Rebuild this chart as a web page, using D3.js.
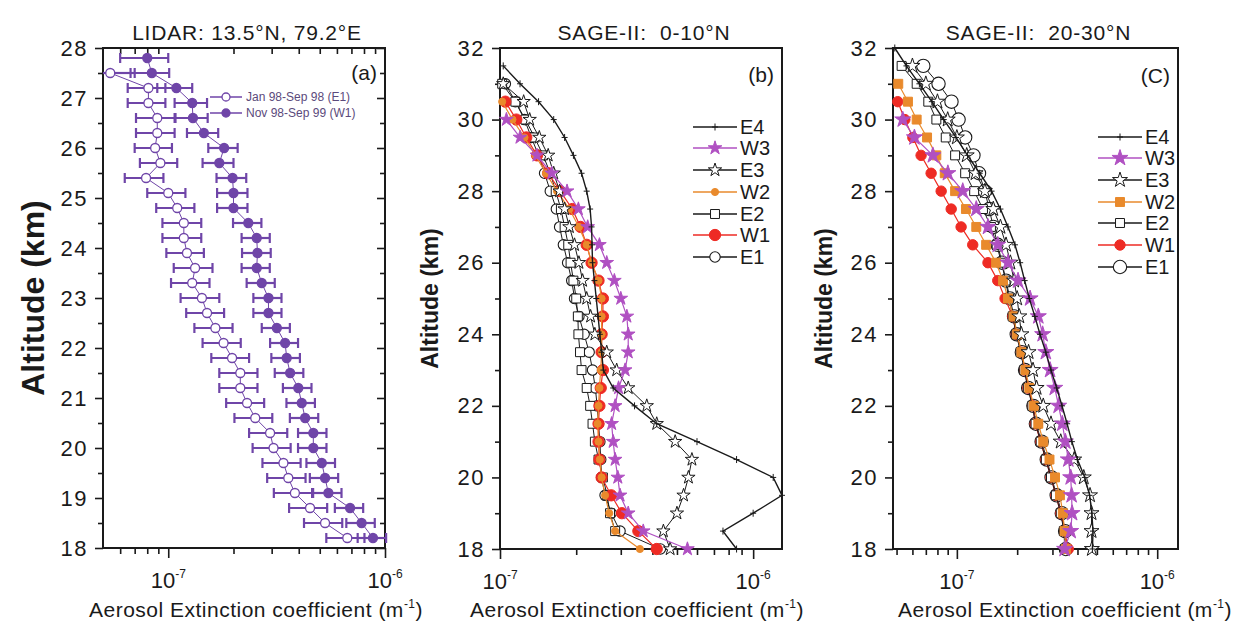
<!DOCTYPE html>
<html>
<head>
<meta charset="UTF-8">
<title>Aerosol extinction profiles</title>
<script src="https://cdn.jsdelivr.net/npm/d3@7"></script>
<style>
  body { margin: 0; background: #fff; }
  svg { font-family: "Liberation Sans", Arial, sans-serif; }
  .ptitle { white-space: pre; }
</style>
</head>
<body>
<svg id="chart" width="1251" height="627"></svg>
<script>
// all extinction values are in units of 1e-7 m^-1

// --- panel (a): LIDAR, 13.5N 79.2E ---
const lidarAltE1 = [27.5,27.2,26.9,26.6,26.3,26.0,25.7,25.4,25.1,24.8,24.5,24.2,23.9,23.6,23.3,23.0,22.7,22.4,22.1,21.8,21.5,21.2,20.9,20.6,20.3,20.0,19.7,19.4,19.1,18.8,18.5,18.2];
const lidarE1 = [0.54,0.81,0.81,0.89,0.89,0.87,0.92,0.79,1.00,1.10,1.18,1.18,1.22,1.33,1.29,1.43,1.51,1.65,1.80,1.97,2.15,2.15,2.31,2.52,2.95,3.06,3.40,3.58,3.84,4.51,5.29,6.70];
const lidarE1err = [0.16,0.16,0.16,0.18,0.18,0.17,0.18,0.16,0.20,0.22,0.24,0.24,0.24,0.27,0.26,0.29,0.30,0.33,0.36,0.39,0.43,0.43,0.46,0.50,0.59,0.61,0.68,0.72,0.77,0.90,1.06,1.34];
const lidarAltW1 = [27.8,27.5,27.2,26.9,26.6,26.3,26.0,25.7,25.4,25.1,24.8,24.5,24.2,23.9,23.6,23.3,23.0,22.7,22.4,22.1,21.8,21.5,21.2,20.9,20.6,20.3,20.0,19.7,19.4,19.1,18.8,18.5,18.2];
const lidarW1 = [0.80,0.84,1.09,1.29,1.30,1.46,1.81,1.72,1.98,2.00,2.00,2.34,2.56,2.58,2.56,2.70,2.90,2.90,3.17,3.46,3.52,3.65,3.98,4.13,4.28,4.67,4.67,5.11,5.29,5.48,6.90,7.80,8.80];
const lidarW1err = [0.20,0.17,0.20,0.22,0.22,0.24,0.28,0.28,0.31,0.32,0.32,0.35,0.38,0.39,0.38,0.40,0.43,0.43,0.47,0.51,0.53,0.55,0.60,0.62,0.64,0.70,0.70,0.77,0.79,0.82,1.03,1.17,1.32];
const lidarLegend = ["Jan 98-Sep 98 (E1)", "Nov 98-Sep 99 (W1)"];

// --- SAGE-II profiles, 32 km down to 18 km every 0.5 km ---
const sageAlt = [32,31.5,31,30.5,30,29.5,29,28.5,28,27.5,27,26.5,26,25.5,25,24.5,24,23.5,23,22.5,22,21.5,21,20.5,20,19.5,19,18.5,18];
const seriesNames = ["E4","W3","E3","W2","E2","W1","E1"];

// panel (b): 0-10N
const bE4 = [null,1.03,1.20,1.42,1.63,1.80,1.95,2.10,2.20,2.27,2.30,2.31,2.32,2.36,2.40,2.44,2.48,2.52,2.56,2.80,3.40,4.16,6.00,8.60,12.0,13.0,10.0,7.60,8.60];
const bW3 = [null,null,null,null,1.06,1.20,1.40,1.60,1.84,2.04,2.22,2.47,2.64,2.83,3.00,3.17,3.21,3.21,3.12,2.94,2.85,2.76,2.80,2.85,2.92,2.98,3.21,3.68,5.50];
const bE3 = [null,null,1.03,1.24,1.31,1.43,1.55,1.63,1.72,1.80,1.88,1.97,2.05,2.12,2.20,2.28,2.37,2.64,2.89,3.21,3.80,4.16,4.92,5.73,5.55,5.31,5.00,4.42,4.70];
const bW2 = [null,null,null,1.02,1.12,1.25,1.38,1.52,1.68,1.88,2.05,2.20,2.30,2.45,2.52,2.52,2.52,2.52,2.50,2.47,2.45,2.43,2.45,2.48,2.52,2.60,2.70,2.85,3.57];
const bE2 = [null,null,1.02,1.15,1.26,1.37,1.48,1.58,1.66,1.74,1.80,1.86,1.90,1.95,2.00,2.03,2.04,2.07,2.10,2.20,2.27,2.32,2.37,2.45,2.55,2.65,2.72,2.85,null];
const bW1 = [null,null,null,1.05,1.16,1.27,1.40,1.55,1.73,1.93,2.08,2.20,2.30,2.45,2.55,2.55,2.52,2.52,2.55,2.50,2.47,2.45,2.45,2.47,2.52,2.75,3.03,3.52,4.16];
const bE1 = [null,null,1.05,1.15,1.25,1.33,1.42,1.50,1.58,1.67,1.72,1.78,1.85,1.92,1.97,2.05,2.15,2.25,2.32,2.38,2.42,2.45,2.48,2.50,2.52,2.60,2.75,2.98,4.30];

// panel (c): 20-30N
const cE4 = [0.49,0.56,0.65,0.75,0.86,0.99,1.13,1.30,1.49,1.65,1.80,1.95,2.07,2.18,2.30,2.45,2.60,2.78,2.95,3.15,3.35,3.55,3.75,4.00,4.35,4.60,4.72,4.78,4.75];
const cW3 = [null,null,null,null,0.537,0.614,0.759,0.902,1.07,1.25,1.43,1.60,1.80,2.02,2.32,2.55,2.68,2.78,2.92,3.08,3.22,3.36,3.48,3.60,3.70,3.74,3.76,3.70,3.45];
const cE3 = [null,0.60,0.70,0.80,0.90,1.00,1.12,1.24,1.38,1.52,1.65,1.76,1.85,1.93,2.00,2.05,2.10,2.28,2.40,2.50,2.70,2.95,3.30,3.85,4.30,4.62,4.70,4.70,4.72];
const cW2 = [null,null,0.51,0.57,0.63,0.71,0.79,0.87,0.98,1.11,1.25,1.40,1.57,1.70,1.80,1.92,2.00,2.10,2.20,2.30,2.42,2.55,2.70,2.90,3.09,3.27,3.38,3.45,3.50];
const cE2 = [null,0.53,0.63,0.72,0.79,0.88,0.98,1.10,1.22,1.35,1.48,1.58,1.67,1.75,1.82,1.90,1.98,2.08,2.17,2.26,2.38,2.47,2.62,2.78,2.95,3.12,3.30,3.42,3.46];
const cW1 = [null,null,null,0.507,0.55,0.603,0.663,0.744,0.835,0.937,1.05,1.20,1.43,1.60,1.74,1.90,1.98,2.10,2.18,2.26,2.40,2.46,2.62,2.78,2.95,3.12,3.30,3.45,3.60];
const cE1 = [null,0.68,0.81,0.94,1.02,1.10,1.21,1.29,1.38,1.45,1.52,1.60,1.68,1.76,1.84,1.93,1.99,2.11,2.19,2.27,2.41,2.48,2.65,2.81,2.97,3.15,3.34,3.47,3.50];

// axis ticks
const decadeLabels = [{v: 1, e: "-7"}, {v: 10, e: "-6"}];
const minorXa = [0.6,0.7,0.8,0.9,2,3,4,5,6,7,8,9];
const minorXb = [2,3,4,5,6,7,8,9];
const minorXc = [0.5,0.6,0.7,0.8,0.9,2,3,4,5,6,7,8,9];
const majorYa = [18,19,20,21,22,23,24,25,26,27,28];
const minorYa = [18.5,19.5,20.5,21.5,22.5,23.5,24.5,25.5,26.5,27.5];
const majorYbc = [18,20,22,24,26,28,30,32];
const minorYbc = [19,21,23,25,27,29,31];

const INK = "#1a1a1a";
const PURPLE = "#6f45a8";
const MAGENTA = "#b050c2";
const ORANGE = "#e98a2c";
const RED = "#ee2b24";

const svg = d3.select("#chart");
svg.append("rect").attr("width", 1251).attr("height", 627).attr("fill", "#fff");

const plusPath = "M-3,0H3M0,-3.5V3.5";

// styles for the SAGE series, keyed by name
function sageStyles(big) {
  return {
    E4: {color: INK, custom: plusPath, fill: "none", stroke: INK, sw: 1, lw: 1.4},
    W3: {color: MAGENTA, type: d3.symbolStar, size: big ? 80 : 58, fill: MAGENTA, stroke: MAGENTA, sw: 1, lw: 1.2},
    E3: {color: INK, type: d3.symbolStar, size: big ? 70 : 55, fill: "#fff", stroke: INK, sw: 1, lw: 1},
    W2: {color: ORANGE, type: big ? d3.symbolSquare : d3.symbolCircle, size: big ? 80 : 40, fill: ORANGE, stroke: ORANGE, sw: 1, lw: 1.2},
    E2: {color: INK, type: d3.symbolSquare, size: 80, fill: "#fff", stroke: INK, sw: 1, lw: 1},
    W1: {color: RED, type: d3.symbolCircle, size: big ? 85 : 100, fill: RED, stroke: RED, sw: 1, lw: 1.2},
    E1: {color: INK, type: d3.symbolCircle, size: big ? 140 : 85, fill: "#fff", stroke: INK, sw: 1.1, lw: 1}
  };
}

function markerD(st) {
  return st.custom ? st.custom : d3.symbol(st.type, st.size)();
}

function drawFrame(o) {
  const x = d3.scaleLog().domain(o.xDomain).range([o.left, o.right]);
  const y = d3.scaleLinear().domain(o.yDomain).range([o.bottom, o.top]);
  const g = svg.append("g");

  const yMaj = g.append("g").attr("transform", `translate(${o.left},0)`)
    .call(d3.axisLeft(y).tickValues(o.yMajor).tickSize(8).tickPadding(7).tickFormat(d3.format("d")));
  const yMin = g.append("g").attr("transform", `translate(${o.left},0)`)
    .call(d3.axisLeft(y).tickValues(o.yMinor).tickSize(5).tickFormat(""));
  const xMaj = g.append("g").attr("transform", `translate(0,${o.bottom})`)
    .call(d3.axisBottom(x).tickValues(decadeLabels.map(d => d.v).filter(v => v >= o.xDomain[0] && v <= o.xDomain[1])).tickSize(10).tickFormat(""));
  const xMin = g.append("g").attr("transform", `translate(0,${o.bottom})`)
    .call(d3.axisBottom(x).tickValues(o.xMinor).tickSize(6).tickFormat(""));
  const axes = [yMaj, yMin, xMaj, xMin];

  if (o.mirror) {
    axes.push(g.append("g").attr("transform", `translate(${o.right},0)`)
      .call(d3.axisLeft(y).tickValues(o.yMajor).tickSize(8).tickFormat("")));
    axes.push(g.append("g").attr("transform", `translate(${o.right},0)`)
      .call(d3.axisLeft(y).tickValues(o.yMinor).tickSize(5).tickFormat("")));
    axes.push(g.append("g").attr("transform", `translate(0,${o.top})`)
      .call(d3.axisBottom(x).tickValues(o.xMinor).tickSize(6).tickFormat("")));
  }
  axes.forEach(a => {
    a.select(".domain").remove();
    a.selectAll(".tick line").attr("stroke", INK).attr("stroke-width", 1.6);
    a.selectAll(".tick text").attr("fill", INK).attr("font-size", 22)
      .attr("letter-spacing", 1.5)
      .attr("font-family", "Liberation Sans, Arial, sans-serif");
  });

  g.append("rect")
    .attr("x", o.left).attr("y", o.top)
    .attr("width", o.right - o.left).attr("height", o.bottom - o.top)
    .attr("fill", "none").attr("stroke", INK).attr("stroke-width", 2);

  // decade labels 10^-7, 10^-6
  decadeLabels.forEach(d => {
    if (d.v < o.xDomain[0] || d.v > o.xDomain[1]) return;
    const t = g.append("text").attr("x", x(d.v)).attr("y", o.bottom + 40)
      .attr("text-anchor", "middle").attr("font-size", 22).attr("fill", INK);
    t.append("tspan").text("10");
    t.append("tspan").attr("dy", -10).attr("font-size", 12).text(d.e);
  });

  // x title
  const xt = g.append("text").attr("x", o.xTitleX).attr("y", 617)
    .attr("text-anchor", "middle").attr("font-size", 21).attr("letter-spacing", 0.5).attr("fill", INK);
  xt.append("tspan").text("Aerosol Extinction coefficient (m");
  xt.append("tspan").attr("dy", -9).attr("font-size", 12).text("-1");
  xt.append("tspan").attr("dy", 9).text(")");

  // y title
  g.append("text")
    .attr("transform", `translate(${o.yTitleX},${(o.top + o.bottom) / 2}) rotate(-90)`)
    .attr("text-anchor", "middle").attr("font-weight", "bold")
    .attr("font-size", o.yTitleSize).attr("fill", INK)
    .text("Altitude (km)");

  // panel title and tag
  g.append("text").attr("class", "ptitle")
    .attr("x", (o.left + o.right) / 2 + 3).attr("y", 40)
    .attr("text-anchor", "middle").attr("font-size", 21).attr("letter-spacing", 0.8).attr("fill", INK)
    .text(o.title);
  g.append("text").attr("x", o.right - 8).attr("y", o.tagY)
    .attr("text-anchor", "end").attr("font-size", 21).attr("fill", INK)
    .text(o.tag);

  return {g, x, y};
}

function drawSage(frame, vals, styles, order) {
  const {g, x, y} = frame;
  order.forEach(name => {
    const st = styles[name];
    const pts = sageAlt.map((a, i) => ({a, v: vals[name][i]})).filter(d => d.v != null);
    g.append("path").datum(pts)
      .attr("d", d3.line().x(d => x(d.v)).y(d => y(d.a)))
      .attr("fill", "none").attr("stroke", st.color).attr("stroke-width", st.lw);
    g.append("g").selectAll("path").data(pts).join("path")
      .attr("transform", d => `translate(${x(d.v)},${y(d.a)})`)
      .attr("d", markerD(st))
      .attr("fill", st.fill).attr("stroke", st.stroke).attr("stroke-width", st.sw);
  });
}

function drawSageLegend(g, styles, lx, rowsY) {
  seriesNames.forEach((name, i) => {
    const st = styles[name];
    const yy = rowsY[i];
    g.append("line").attr("x1", lx).attr("x2", lx + 44).attr("y1", yy).attr("y2", yy)
      .attr("stroke", st.color).attr("stroke-width", 1.6);
    g.append("path").attr("transform", `translate(${lx + 22},${yy})`)
      .attr("d", markerD(st)).attr("fill", st.fill).attr("stroke", st.stroke).attr("stroke-width", st.sw);
    g.append("text").attr("x", lx + 47).attr("y", yy + 7)
      .attr("font-size", 20).attr("fill", INK).text(name);
  });
}

// ---------- panel (a) ----------
const fa = drawFrame({
  left: 103, right: 385, top: 48, bottom: 548,
  xDomain: [0.5, 10], yDomain: [18, 28],
  yMajor: majorYa, yMinor: minorYa, xMinor: minorXa, mirror: true,
  title: "LIDAR: 13.5°N, 79.2°E", tag: "(a)", tagY: 80,
  xTitleX: 256, yTitleX: 44, yTitleSize: 32
});

function drawLidar(frame, alts, vals, errs, filled) {
  const {g, x, y} = frame;
  const pts = alts.map((a, i) => ({a, v: vals[i], e: errs[i]}));
  const eb = g.append("g").attr("stroke", PURPLE).attr("stroke-width", 2.2);
  pts.forEach(d => {
    const x0 = x(Math.max(d.v - d.e, 0.5)), x1 = x(d.v + d.e), yy = y(d.a);
    eb.append("line").attr("x1", x0).attr("x2", x1).attr("y1", yy).attr("y2", yy);
    if (d.v - d.e >= 0.5) eb.append("line").attr("x1", x0).attr("x2", x0).attr("y1", yy - 5).attr("y2", yy + 5);
    eb.append("line").attr("x1", x1).attr("x2", x1).attr("y1", yy - 5).attr("y2", yy + 5);
  });
  g.append("path").datum(pts)
    .attr("d", d3.line().x(d => x(d.v)).y(d => y(d.a)))
    .attr("fill", "none").attr("stroke", PURPLE).attr("stroke-width", 1);
  g.append("g").selectAll("circle").data(pts).join("circle")
    .attr("cx", d => x(d.v)).attr("cy", d => y(d.a)).attr("r", 4.5)
    .attr("fill", filled ? PURPLE : "#fff").attr("stroke", PURPLE).attr("stroke-width", 1.3);
}
drawLidar(fa, lidarAltE1, lidarE1, lidarE1err, false);
drawLidar(fa, lidarAltW1, lidarW1, lidarW1err, true);

lidarLegend.forEach((lab, i) => {
  const yy = 97 + i * 16;
  fa.g.append("line").attr("x1", 210).attr("x2", 242).attr("y1", yy).attr("y2", yy)
    .attr("stroke", PURPLE).attr("stroke-width", 1.5);
  fa.g.append("circle").attr("cx", 226).attr("cy", yy).attr("r", 4)
    .attr("fill", i === 0 ? "#fff" : PURPLE).attr("stroke", PURPLE).attr("stroke-width", 1.3);
  fa.g.append("text").attr("x", 246).attr("y", yy + 4).attr("font-size", 12)
    .attr("fill", "#5b4a7c").text(lab);
});

// ---------- panel (b) ----------
const fb = drawFrame({
  left: 500, right: 782, top: 48, bottom: 549,
  xDomain: [1, 13], yDomain: [18, 32],
  yMajor: majorYbc, yMinor: minorYbc, xMinor: minorXb, mirror: false,
  title: "SAGE-II:  0-10°N", tag: "(b)", tagY: 82,
  xTitleX: 637, yTitleX: 438, yTitleSize: 23
});
const stB = sageStyles(false);
drawSage(fb, {E4: bE4, W3: bW3, E3: bE3, W2: bW2, E2: bE2, W1: bW1, E1: bE1}, stB,
  ["E1", "E2", "W1", "W2", "E3", "W3", "E4"]);
drawSageLegend(fb.g, stB, 693, [127, 148, 170, 192, 214, 235, 257]);

// ---------- panel (c) ----------
const fc = drawFrame({
  left: 893, right: 1178, top: 48, bottom: 549,
  xDomain: [0.48, 12.7], yDomain: [18, 32],
  yMajor: majorYbc, yMinor: minorYbc, xMinor: minorXc, mirror: false,
  title: "SAGE-II:  20-30°N", tag: "(C)", tagY: 83,
  xTitleX: 1065, yTitleX: 832, yTitleSize: 23
});
const stC = sageStyles(true);
drawSage(fc, {E4: cE4, W3: cW3, E3: cE3, W2: cW2, E2: cE2, W1: cW1, E1: cE1}, stC,
  ["E1", "W1", "E2", "W2", "E3", "W3", "E4"]);
drawSageLegend(fc.g, stC, 1098, [137, 158, 180, 202, 223, 245, 267]);
</script>
</body>
</html>
